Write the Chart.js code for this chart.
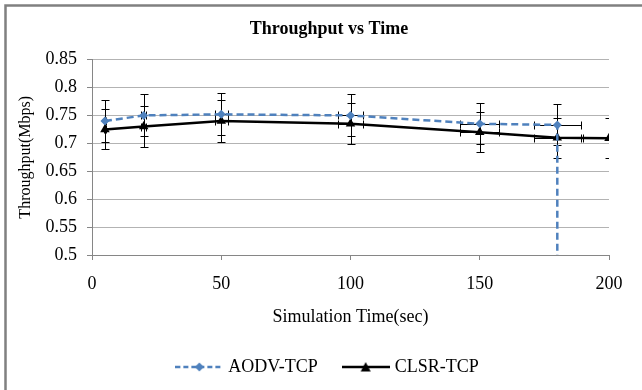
<!DOCTYPE html>
<html>
<head>
<meta charset="utf-8">
<script src="https://cdn.jsdelivr.net/npm/chart.js@4/dist/chart.umd.min.js"></script>
<style>
  html, body { margin: 0; padding: 0; background: #fff; }
</style>
</head>
<body>
<canvas id="chart" width="642" height="390"></canvas>
<script>
// DATA
const aodvTime = [5, 20, 50, 100, 150, 180, 180];
const aodvThroughput = [0.74, 0.75, 0.752, 0.75, 0.735, 0.733, 0];
const aodvYErr = [0.037, 0.0375, 0.0376, 0.0375, 0.0368, 0.0367, 0];
const aodvXErr = [0.25, 1, 2.5, 5, 7.5, 9, 0];

const clsrTime = [5, 20, 50, 100, 150, 180, 200];
const clsrThroughput = [0.725, 0.73, 0.74, 0.735, 0.72, 0.71, 0.709];
const clsrYErr = [0.036, 0.0365, 0.037, 0.0368, 0.036, 0.0355, 0.0355];
const clsrXErr = [0.25, 1, 2.5, 5, 7.5, 9, 10];

const seriesNames = ["AODV-TCP", "CLSR-TCP"];
const xTicks = [0, 50, 100, 150, 200];
const yTicks = [0.5, 0.55, 0.6, 0.65, 0.7, 0.75, 0.8, 0.85];

const FONT = "'Liberation Serif', 'Times New Roman', serif";
const BLUE = "#4f81bd";

function toPoints(xs, ys) {
  return xs.map((v, i) => ({x: v, y: ys[i]}));
}

// legend swatch: line + marker, like Excel
function swatch(color, dash, marker) {
  const c = document.createElement("canvas");
  c.width = 48; c.height = 12;
  const g = c.getContext("2d");
  g.strokeStyle = color;
  g.lineWidth = 2.5;
  g.setLineDash(dash);
  g.beginPath(); g.moveTo(0, 6); g.lineTo(48, 6); g.stroke();
  g.setLineDash([]);
  g.fillStyle = color;
  g.beginPath();
  if (marker === "diamond") {
    g.moveTo(24, 1.5); g.lineTo(28.5, 6); g.lineTo(24, 10.5); g.lineTo(19.5, 6);
  } else {
    g.moveTo(24, 1); g.lineTo(29, 10.5); g.lineTo(19, 10.5);
  }
  g.closePath(); g.fill();
  return c;
}
const swatches = [swatch(BLUE, [5, 3], "diamond"), swatch("#000", [], "triangle")];

// white background + chart border (top/left visible)
const frame = {
  id: "frame",
  beforeDraw(chart) {
    const ctx = chart.ctx;
    ctx.save();
    ctx.fillStyle = "#fff";
    ctx.fillRect(0, 0, chart.width, chart.height);
    ctx.strokeStyle = "#808080";
    ctx.lineWidth = 2.5;
    ctx.strokeRect(5.5, 5.5, chart.width + 20, chart.height + 20);
    ctx.restore();
  }
};

// x and y error bars
const errorBars = {
  id: "errorBars",
  beforeDatasetsDraw(chart) {
    const {ctx, chartArea, scales} = chart;
    const x = scales.x, y = scales.y;
    ctx.save();
    ctx.beginPath();
    ctx.rect(chartArea.left, chartArea.top, chartArea.right - chartArea.left, chartArea.bottom - chartArea.top);
    ctx.clip();
    ctx.strokeStyle = "#000";
    ctx.lineWidth = 1;
    const cap = 4;
    chart.data.datasets.forEach(ds => {
      ds.data.forEach((p, i) => {
        const px = Math.round(x.getPixelForValue(p.x)) + 0.5;
        const py = Math.round(y.getPixelForValue(p.y)) + 0.5;
        const ey = ds.yErr[i], ex = ds.xErr[i];
        ctx.beginPath();
        if (ey) {
          const t = Math.round(y.getPixelForValue(p.y + ey)) + 0.5;
          const b = Math.round(y.getPixelForValue(p.y - ey)) + 0.5;
          ctx.moveTo(px, t); ctx.lineTo(px, b);
          ctx.moveTo(px - cap, t); ctx.lineTo(px + cap, t);
          ctx.moveTo(px - cap, b); ctx.lineTo(px + cap, b);
        }
        if (ex) {
          const l = Math.round(x.getPixelForValue(p.x - ex)) + 0.5;
          const r = Math.round(x.getPixelForValue(p.x + ex)) + 0.5;
          ctx.moveTo(l, py); ctx.lineTo(r, py);
          ctx.moveTo(l, py - cap); ctx.lineTo(l, py + cap);
          ctx.moveTo(r, py - cap); ctx.lineTo(r, py + cap);
        }
        ctx.stroke();
      });
    });
    ctx.restore();
  }
};

const chart = new Chart(document.getElementById("chart"), {
  type: "scatter",
  data: {
    datasets: [
      {
        label: seriesNames[0],
        data: toPoints(aodvTime, aodvThroughput),
        yErr: aodvYErr,
        xErr: aodvXErr,
        showLine: true,
        borderColor: BLUE,
        backgroundColor: BLUE,
        borderWidth: 2.5,
        borderDash: [7, 4],
        pointStyle: "rectRot",
        pointRadius: 4.5,
        pointBorderWidth: 0
      },
      {
        label: seriesNames[1],
        data: toPoints(clsrTime, clsrThroughput),
        yErr: clsrYErr,
        xErr: clsrXErr,
        showLine: true,
        borderColor: "#000",
        backgroundColor: "#000",
        borderWidth: 2.5,
        pointStyle: "triangle",
        pointRadius: 5.5,
        pointBorderWidth: 0
      }
    ]
  },
  options: {
    responsive: false,
    animation: false,
    devicePixelRatio: 1,
    layout: { padding: { left: 16, right: 0, top: 8, bottom: 4 } },
    plugins: {
      title: {
        display: true,
        text: "Throughput vs Time",
        color: "#000",
        font: { family: FONT, size: 18, weight: "bold" },
        padding: { top: 11, bottom: 19 }
      },
      legend: {
        position: "bottom",
        labels: {
          usePointStyle: true,
          pointStyleWidth: 40,
          color: "#000",
          font: { family: FONT, size: 18 },
          padding: 28,
          generateLabels(chart) {
            return chart.data.datasets.map((ds, i) => ({
              text: ds.label,
              pointStyle: swatches[i],
              fillStyle: ds.borderColor,
              strokeStyle: ds.borderColor,
              lineWidth: 0,
              hidden: false,
              datasetIndex: i,
              fontColor: "#000"
            }));
          }
        }
      },
      tooltip: { enabled: false }
    },
    scales: {
      x: {
        type: "linear",
        min: 0,
        max: 200,
        afterBuildTicks(s) { s.ticks = xTicks.map(v => ({value: v})); },
        afterFit(s) { s.height = 75; },
        ticks: { color: "#000", font: { family: FONT, size: 18 }, padding: 13 },
        grid: { drawOnChartArea: false, drawTicks: true, tickLength: 5, tickColor: "#868686" },
        border: { color: "#868686" },
        title: {
          display: true,
          text: "Simulation Time(sec)",
          color: "#000",
          font: { family: FONT, size: 18 },
          padding: { top: 4, bottom: 2 }
        }
      },
      y: {
        type: "linear",
        min: 0.5,
        max: 0.85,
        afterBuildTicks(s) { s.ticks = yTicks.map(v => ({value: v})); },
        afterFit(s) { s.width = 76; },
        ticks: {
          color: "#000",
          font: { family: FONT, size: 18 },
          padding: 10,
          callback: v => String(+v.toFixed(2))
        },
        grid: { color: "#b3b3b3", tickLength: 5, tickColor: "#868686" },
        border: { color: "#868686" },
        title: {
          display: true,
          text: "Throughput(Mbps)",
          color: "#000",
          font: { family: FONT, size: 16 },
          padding: { top: 0, bottom: 0 }
        }
      },
      yRight: {
        type: "linear",
        position: "right",
        display: true,
        grid: { display: false },
        border: { display: false },
        ticks: { display: false },
        afterFit(s) { s.width = 33; }
      }
    }
  },
  plugins: [frame, errorBars]
});
</script>
</body>
</html>
